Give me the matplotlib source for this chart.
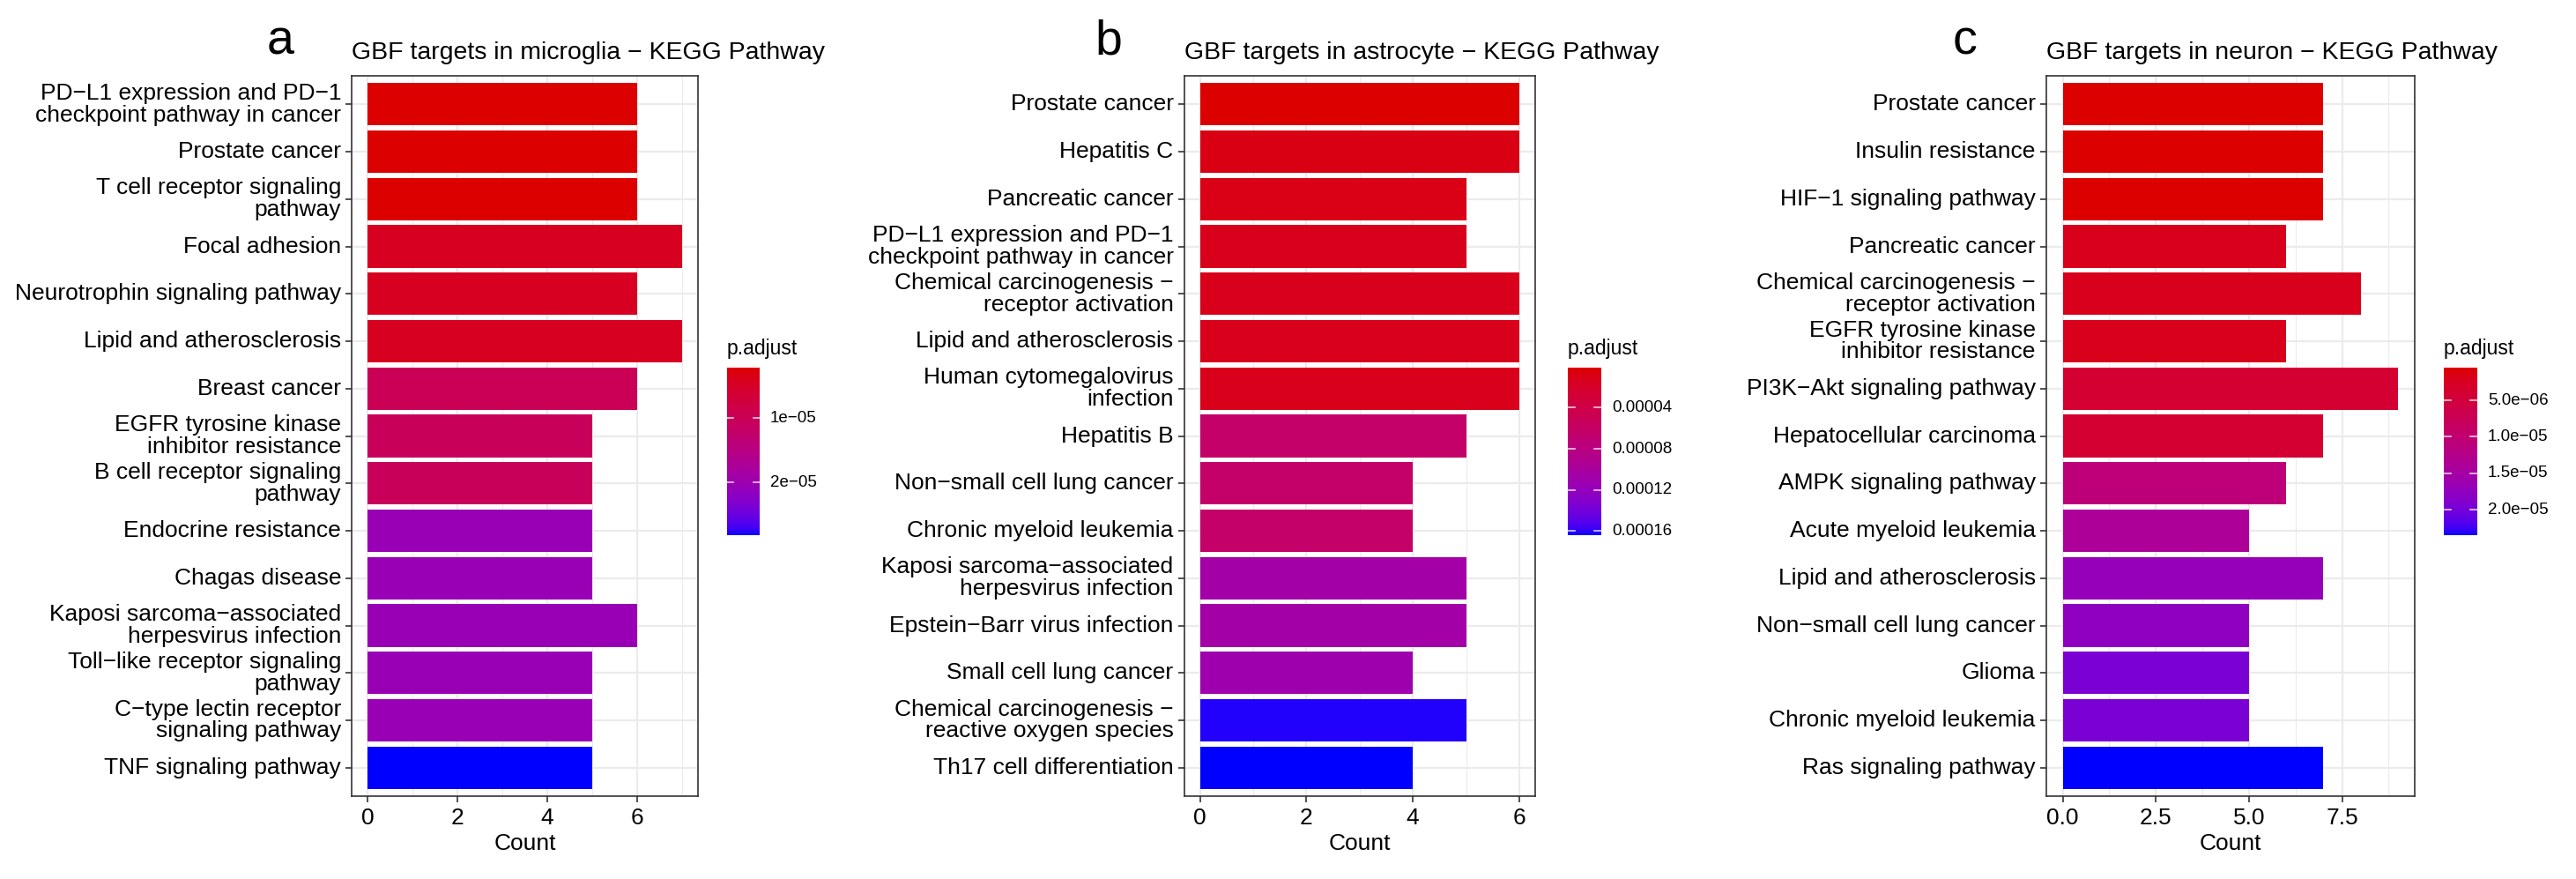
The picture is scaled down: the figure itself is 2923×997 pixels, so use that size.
import numpy as np
import matplotlib
matplotlib.use("Agg")
import matplotlib.pyplot as plt
from matplotlib.colors import ListedColormap, Normalize

plt.rcParams['font.family'] = ['Liberation Sans', 'DejaVu Sans']

# ---------------- data ----------------
panel_letters = ["a", "b", "c"]
titles = ["GBF targets in microglia \u2212 KEGG Pathway",
          "GBF targets in astrocyte \u2212 KEGG Pathway",
          "GBF targets in neuron \u2212 KEGG Pathway"]

terms_a = ["PD\u2212L1 expression and PD\u22121\ncheckpoint pathway in cancer",
           "Prostate cancer",
           "T cell receptor signaling\npathway",
           "Focal adhesion",
           "Neurotrophin signaling pathway",
           "Lipid and atherosclerosis",
           "Breast cancer",
           "EGFR tyrosine kinase\ninhibitor resistance",
           "B cell receptor signaling\npathway",
           "Endocrine resistance",
           "Chagas disease",
           "Kaposi sarcoma\u2212associated\nherpesvirus infection",
           "Toll\u2212like receptor signaling\npathway",
           "C\u2212type lectin receptor\nsignaling pathway",
           "TNF signaling pathway"]
count_a = [6, 6, 6, 7, 6, 7, 6, 5, 5, 5, 5, 6, 5, 5, 5]
padj_a = [2.2e-6, 2.2e-6, 2.2e-6, 4.3e-6, 4.3e-6, 4.3e-6, 1.0e-5, 1.05e-5, 1.05e-5,
          2.05e-5, 2.05e-5, 2.05e-5, 2.05e-5, 2.05e-5, 2.82e-5]

terms_b = ["Prostate cancer",
           "Hepatitis C",
           "Pancreatic cancer",
           "PD\u2212L1 expression and PD\u22121\ncheckpoint pathway in cancer",
           "Chemical carcinogenesis \u2212\nreceptor activation",
           "Lipid and atherosclerosis",
           "Human cytomegalovirus\ninfection",
           "Hepatitis B",
           "Non\u2212small cell lung cancer",
           "Chronic myeloid leukemia",
           "Kaposi sarcoma\u2212associated\nherpesvirus infection",
           "Epstein\u2212Barr virus infection",
           "Small cell lung cancer",
           "Chemical carcinogenesis \u2212\nreactive oxygen species",
           "Th17 cell differentiation"]
count_b = [6, 6, 5, 5, 6, 6, 6, 5, 4, 4, 5, 5, 4, 5, 4]
padj_b = [1.0e-6, 7.5e-6, 9.2e-6, 1.24e-5, 1.24e-5, 1.24e-5, 1.24e-5, 6.3e-5, 6.3e-5,
          6.3e-5, 1.07e-4, 1.07e-4, 1.1e-4, 1.62e-4, 1.64e-4]

terms_c = ["Prostate cancer",
           "Insulin resistance",
           "HIF\u22121 signaling pathway",
           "Pancreatic cancer",
           "Chemical carcinogenesis \u2212\nreceptor activation",
           "EGFR tyrosine kinase\ninhibitor resistance",
           "PI3K\u2212Akt signaling pathway",
           "Hepatocellular carcinoma",
           "AMPK signaling pathway",
           "Acute myeloid leukemia",
           "Lipid and atherosclerosis",
           "Non\u2212small cell lung cancer",
           "Glioma",
           "Chronic myeloid leukemia",
           "Ras signaling pathway"]
count_c = [7, 7, 7, 6, 8, 6, 9, 7, 6, 5, 7, 5, 5, 5, 7]
padj_c = [5.0e-7, 5.0e-7, 5.0e-7, 2.1e-6, 2.1e-6, 2.1e-6, 3.9e-6, 3.9e-6, 1.09e-5,
          1.39e-5, 1.71e-5, 1.78e-5, 1.96e-5, 1.96e-5, 2.35e-5]

xticks_a = [0, 2, 4, 6]
xticks_b = [0, 2, 4, 6]
xticks_c = [0, 2.5, 5.0, 7.5]
xticklabels_a = ["0", "2", "4", "6"]
xticklabels_b = ["0", "2", "4", "6"]
xticklabels_c = ["0.0", "2.5", "5.0", "7.5"]

cbticks_a = [1e-5, 2e-5]
cbticks_b = [4e-5, 8e-5, 1.2e-4, 1.6e-4]
cbticks_c = [5e-6, 1e-5, 1.5e-5, 2e-5]
cblabels_a = ["1e\u221205", "2e\u221205"]
cblabels_b = ["0.00004", "0.00008", "0.00012", "0.00016"]
cblabels_c = ["5.0e\u221206", "1.0e\u221205", "1.5e\u221205", "2.0e\u221205"]

# ---------------- colour scale (Lab interpolation, like ggplot) ----------------
def hex2rgb(h):
    h = h.lstrip('#')
    return np.array([int(h[i:i + 2], 16) / 255 for i in (0, 2, 4)])

M = np.array([[0.4124, 0.3576, 0.1805], [0.2126, 0.7152, 0.0722], [0.0193, 0.1192, 0.9505]])
Minv = np.linalg.inv(M)
WHITE = np.array([0.95047, 1.0, 1.08883])

def srgb2lab(c):
    lin = np.where(c <= 0.04045, c / 12.92, ((c + 0.055) / 1.055) ** 2.4)
    xyz = M @ lin / WHITE
    f = np.where(xyz > 0.008856, np.cbrt(xyz), 7.787 * xyz + 16 / 116)
    return np.array([116 * f[1] - 16, 500 * (f[0] - f[1]), 200 * (f[1] - f[2])])

def lab2srgb(lab):
    L, a, b = lab
    fy = (L + 16) / 116
    fx = fy + a / 500
    fz = fy - b / 200
    f = np.array([fx, fy, fz])
    xyz = np.where(f ** 3 > 0.008856, f ** 3, (f - 16 / 116) / 7.787) * WHITE
    lin = np.clip(Minv @ xyz, 0, 1)
    c = np.where(lin <= 0.0031308, 12.92 * lin, 1.055 * lin ** (1 / 2.4) - 0.055)
    return np.clip(c, 0, 1)

low_lab = srgb2lab(hex2rgb("#DC0000"))
high_lab = srgb2lab(hex2rgb("#0000FF"))
cols = [lab2srgb(low_lab + t * (high_lab - low_lab)) for t in np.linspace(0, 1, 256)]
cmap = ListedColormap(cols)

# ---------------- layout ----------------
W, H = 2923, 997
fig = plt.figure(figsize=(W / 100, H / 100), dpi=100)

def fx(x):
    return x / W

def fy(y):
    return 1 - y / H

panels = [
    dict(terms=terms_a, count=count_a, padj=padj_a, xt=xticks_a, xtl=xticklabels_a,
         cbt=cbticks_a, cbl=cblabels_a, ax=(399, 792), cb=(825, 862), letter_x=318),
    dict(terms=terms_b, count=count_b, padj=padj_b, xt=xticks_b, xtl=xticklabels_b,
         cbt=cbticks_b, cbl=cblabels_b, ax=(1343.5, 1742), cb=(1779, 1817), letter_x=1258),
    dict(terms=terms_c, count=count_c, padj=padj_c, xt=xticks_c, xtl=xticklabels_c,
         cbt=cbticks_c, cbl=cblabels_c, ax=(2321.6, 2740), cb=(2773, 2811), letter_x=2229),
]

top, bottom = 86, 903
cb_top, cb_bot = 417, 607
border_col = "#333333"
grid_col = "#EBEBEB"

for k, p in enumerate(panels):
    x0, x1 = p['ax']
    ax = fig.add_axes([fx(x0), fy(bottom), (x1 - x0) / W, (bottom - top) / H])
    n = len(p['terms'])
    ypos = np.arange(n, 0, -1)
    vmin, vmax = min(p['padj']), max(p['padj'])
    norm = Normalize(vmin=vmin, vmax=vmax)
    colors = [cmap(norm(v)) for v in p['padj']]
    xmax = max(p['count'])
    ax.barh(ypos, p['count'], height=0.9, color=colors, linewidth=0, zorder=3)
    ax.set_xlim(-0.05 * xmax, 1.05 * xmax)
    ax.set_ylim(0.4, n + 0.6)

    # grid
    ax.set_axisbelow(True)
    step = p['xt'][1] - p['xt'][0]
    minors = np.arange(step / 2, 1.05 * xmax, step)
    for m in minors:
        ax.axvline(m, color=grid_col, lw=0.8, zorder=1)
    for t in p['xt']:
        ax.axvline(t, color=grid_col, lw=1.6, zorder=1)
    for y in ypos:
        ax.axhline(y, color=grid_col, lw=1.6, zorder=1)

    ax.set_xticks(p['xt'])
    ax.set_xticklabels(p['xtl'])
    ax.set_yticks(ypos)
    ax.set_yticklabels(p['terms'], linespacing=1.05)
    for lbl in ax.get_yticklabels():
        lbl.set_verticalalignment('center')
    ax.tick_params(axis='both', direction='out', length=5, width=1.2, color=border_col,
                   labelsize=19, labelcolor='black')
    ax.tick_params(axis='y', pad=3.6)
    ax.tick_params(axis='x', pad=4.5)
    for s in ax.spines.values():
        s.set_color(border_col)
        s.set_linewidth(1.2)
        s.set_zorder(5)

    # texts
    fig.text(fx(x0), fy(67), titles[k], fontsize=20.5, ha='left', va='baseline')
    fig.text(fx(p['letter_x']), fy(62), panel_letters[k], fontsize=40, ha='center', va='baseline')
    fig.text(fx((x0 + x1) / 2), fy(964), "Count", fontsize=19, ha='center', va='baseline')

    # colour bar
    c0, c1 = p['cb']
    cax = fig.add_axes([fx(c0), fy(cb_bot), (c1 - c0) / W, (cb_bot - cb_top) / H])
    grad = np.linspace(vmin, vmax, 300).reshape(-1, 1)
    cax.imshow(grad, aspect='auto', cmap=cmap, norm=norm, extent=(0, 1, vmax, vmin),
               interpolation='bilinear')
    cax.set_xlim(0, 1)
    cax.set_ylim(vmax, vmin)
    cax.set_axis_off()
    for t, lab in zip(p['cbt'], p['cbl']):
        cax.plot([0, 0.2], [t, t], color='white', lw=1.2, alpha=0.8)
        cax.plot([0.8, 1], [t, t], color='white', lw=1.2, alpha=0.8)
        ty = cb_top + (t - vmin) / (vmax - vmin) * (cb_bot - cb_top)
        fig.text(fx(c1 + 12), fy(ty), lab, fontsize=13.5, ha='left', va='center')
    fig.text(fx(c0), fy(402), "p.adjust", fontsize=16.5, ha='left', va='baseline')

fig.savefig("out.png", dpi=100, facecolor='white')
